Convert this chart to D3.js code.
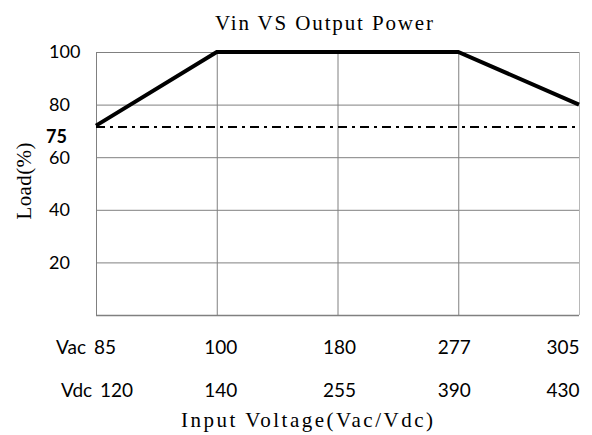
<!DOCTYPE html>
<html>
<head>
<meta charset="utf-8">
<script src="https://cdn.jsdelivr.net/npm/d3@7"></script>
<style>
  body { margin: 0; background: #fff; }
  svg { display: block; }
</style>
</head>
<body>
<div id="chart"></div>
<script>
// chart data
var vacLabels = ["Vac 85", "100", "180", "277", "305"];
var vdcLabels = ["Vdc 120", "140", "255", "390", "430"];
var loadValues = [72, 100, 100, 100, 80];
var thresholdValue = 71.5;
var thresholdLabel = "75";
var yTicks = [20, 40, 60, 80, 100];

var width = 592, height = 435;
var margin = { top: 52, right: 13, bottom: 120, left: 96 };

var svg = d3.select("#chart").append("svg")
    .attr("width", width)
    .attr("height", height);

var innerW = width - margin.left - margin.right;
var innerH = height - margin.top - margin.bottom;

var x = d3.scalePoint()
    .domain(d3.range(vacLabels.length))
    .range([0, innerW]);

var y = d3.scaleLinear()
    .domain([0, 100])
    .range([innerH, 0]);

var g = svg.append("g")
    .attr("transform", "translate(" + margin.left + "," + margin.top + ")");

var serif = "'Liberation Serif', 'DejaVu Serif', serif";
var sans = "Lato, 'Open Sans', sans-serif";

// horizontal grid
g.append("g")
  .selectAll("line")
  .data(yTicks)
  .enter().append("line")
    .attr("x1", 0)
    .attr("x2", innerW)
    .attr("y1", function(d) { return y(d) + 0.5; })
    .attr("y2", function(d) { return y(d) + 0.5; })
    .style("stroke", "#808080")
    .style("stroke-width", 1);

// vertical grid
g.append("g")
  .selectAll("line")
  .data(x.domain())
  .enter().append("line")
    .attr("x1", function(d) { return x(d) + 0.5; })
    .attr("x2", function(d) { return x(d) + 0.5; })
    .attr("y1", 0)
    .attr("y2", innerH)
    .style("stroke", function(d, i) { return i == vacLabels.length - 1 ? "#b8b8b8" : "#808080"; })
    .style("stroke-width", 1);

// bottom border
g.append("line")
    .attr("x1", 0)
    .attr("x2", innerW)
    .attr("y1", innerH + 0.5)
    .attr("y2", innerH + 0.5)
    .style("stroke", "#808080")
    .style("stroke-width", 1.5);

// y tick labels (left aligned like the original)
g.append("g")
  .selectAll("text")
  .data(yTicks)
  .enter().append("text")
    .attr("x", -47)
    .attr("y", function(d) { return y(d); })
    .attr("dy", "0.36em")
    .attr("text-anchor", "start")
    .style("font-family", sans)
    .style("font-size", "18px")
    .style("fill", "#000")
    .text(function(d) { return d; });

// threshold label, bold, sits just under the dash-dot line
g.append("text")
    .attr("x", -50)
    .attr("y", y(thresholdValue) + 10)
    .attr("dy", "0.36em")
    .attr("text-anchor", "start")
    .style("font-family", sans)
    .style("font-size", "18px")
    .style("font-weight", "bold")
    .text(thresholdLabel);

// dash-dot threshold line
g.append("line")
    .attr("x1", 0)
    .attr("x2", innerW)
    .attr("y1", y(thresholdValue))
    .attr("y2", y(thresholdValue))
    .style("stroke", "#000")
    .style("stroke-width", 2)
    .style("stroke-dasharray", "9,5,3,5");

// derating curve
var line = d3.line()
    .x(function(d, i) { return x(i); })
    .y(function(d) { return y(d); });

g.append("path")
    .datum(loadValues)
    .attr("d", line)
    .style("fill", "none")
    .style("stroke", "#000")
    .style("stroke-width", 4)
    .style("stroke-linejoin", "miter");

// x labels, two rows; they sit a little inward from the grid lines
var labelShift = [-10, 4, 2, -4, -16];
var labelShift2 = [1, 4, 2, -4, -16];

g.append("g")
  .selectAll("text")
  .data(vacLabels)
  .enter().append("text")
    .attr("x", function(d, i) { return x(i) + labelShift[i]; })
    .attr("y", innerH + 32)
    .attr("dy", "0.36em")
    .attr("text-anchor", "middle")
    .style("font-family", sans)
    .style("font-size", "19px")
    .style("word-spacing", "3px")
    .text(function(d) { return d; });

g.append("g")
  .selectAll("text")
  .data(vdcLabels)
  .enter().append("text")
    .attr("x", function(d, i) { return x(i) + labelShift2[i]; })
    .attr("y", innerH + 75)
    .attr("dy", "0.36em")
    .attr("text-anchor", "middle")
    .style("font-family", sans)
    .style("font-size", "19px")
    .style("word-spacing", "3px")
    .text(function(d) { return d; });

// titles
svg.append("text")
    .attr("x", 324)
    .attr("y", 30)
    .attr("text-anchor", "middle")
    .attr("textLength", 218)
    .attr("lengthAdjust", "spacing")
    .style("font-family", serif)
    .style("font-size", "21px")
    .text("Vin VS Output Power");

svg.append("text")
    .attr("x", 307)
    .attr("y", 427)
    .attr("text-anchor", "middle")
    .attr("textLength", 252)
    .attr("lengthAdjust", "spacing")
    .style("font-family", serif)
    .style("font-size", "21px")
    .text("Input Voltage(Vac/Vdc)");

svg.append("text")
    .attr("transform", "translate(31,181) rotate(-90)")
    .attr("text-anchor", "middle")
    .attr("textLength", 77)
    .attr("lengthAdjust", "spacing")
    .style("font-family", serif)
    .style("font-size", "21px")
    .text("Load(%)");
</script>
</body>
</html>
